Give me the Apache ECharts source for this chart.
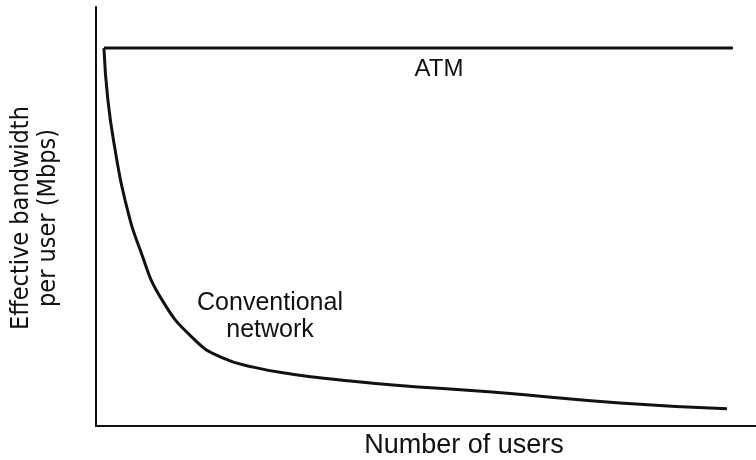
<!DOCTYPE html>
<html>
<head>
<meta charset="utf-8">
<script src="https://cdn.jsdelivr.net/npm/echarts@6/dist/echarts.min.js"></script>
<style>
  html, body { margin: 0; padding: 0; background: #fff; }
  #chart { width: 756px; height: 460px; }
</style>
</head>
<body>
<div id="chart"></div>
<script>
// number of users (relative scale 0..100)
const atmUsers = [1.2, 96.5];
const atmBandwidth = [90.2, 90.2];

const convUsers = [1.2, 1.8, 2.9, 4.4, 6.7, 10.0, 15.0, 19.0, 24.0, 30.0, 37.0, 45.0, 60.0, 79.4, 95.6];
const convBandwidth = [90.2, 77.8, 65.9, 53.9, 42.0, 30.1, 20.5, 16.4, 14.0, 12.3, 11.0, 9.8, 8.1, 5.5, 4.1];

const xTitle = "Number of users";
const yTitle = ["Effective bandwidth", "per user (Mbps)"];

const ink = "#111";
const font = "'Liberation Sans', Arial, sans-serif";
const narrowFont = "'DejaVu Sans Condensed', 'Liberation Sans Narrow', sans-serif";

const chart = echarts.init(document.getElementById("chart"));

function pairs(xs, ys) {
  return xs.map((x, i) => [x, ys[i]]);
}

chart.setOption({
  animation: false,
  backgroundColor: "#fff",
  grid: { left: 96, right: 0, top: 7, bottom: 34 },
  xAxis: {
    type: "value",
    min: 0,
    max: 100,
    axisLine: { show: true, lineStyle: { color: ink, width: 2 } },
    axisTick: { show: false },
    axisLabel: { show: false },
    splitLine: { show: false }
  },
  yAxis: {
    type: "value",
    min: 0,
    max: 100,
    axisLine: { show: true, lineStyle: { color: ink, width: 2 } },
    axisTick: { show: false },
    axisLabel: { show: false },
    splitLine: { show: false }
  },
  series: [
    {
      name: "ATM",
      type: "line",
      data: pairs(atmUsers, atmBandwidth),
      showSymbol: false,
      lineStyle: { color: ink, width: 3 }
    },
    {
      name: "Conventional network",
      type: "line",
      data: pairs(convUsers, convBandwidth),
      smooth: true,
      showSymbol: false,
      lineStyle: { color: ink, width: 3 }
    }
  ],
  graphic: [
    {
      type: "text",
      x: 439,
      y: 69,
      style: {
        text: "ATM",
        font: "24px " + font,
        fill: ink,
        align: "center",
        verticalAlign: "middle"
      }
    },
    {
      type: "text",
      x: 270,
      y: 317,
      style: {
        text: "Conventional\nnetwork",
        font: "25px " + font,
        lineHeight: 27,
        fill: ink,
        align: "center",
        verticalAlign: "middle"
      }
    },
    {
      type: "text",
      x: 464,
      y: 446,
      style: {
        text: xTitle,
        font: "27px " + font,
        fill: ink,
        align: "center",
        verticalAlign: "middle"
      }
    },
    {
      type: "text",
      x: 35,
      y: 218,
      rotation: Math.PI / 2,
      style: {
        text: yTitle.join("\n"),
        font: "25px " + narrowFont,
        lineHeight: 27,
        fill: ink,
        align: "center",
        verticalAlign: "middle"
      }
    }
  ]
});
</script>
</body>
</html>
